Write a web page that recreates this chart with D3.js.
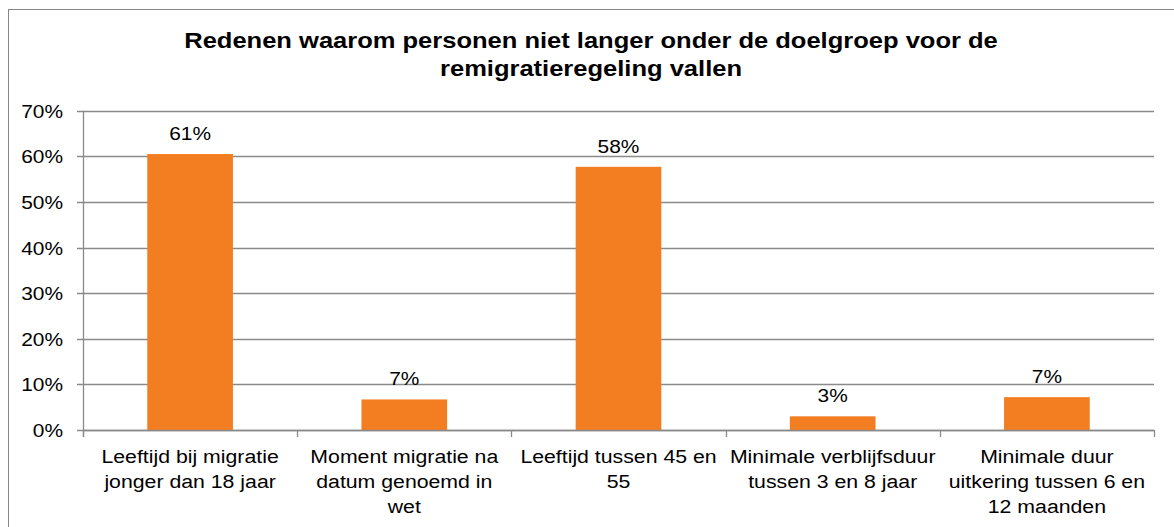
<!DOCTYPE html>
<html>
<head>
<meta charset="utf-8">
<script src="https://cdn.jsdelivr.net/npm/d3@7"></script>
<style>
  html, body { margin: 0; padding: 0; background: #fff; }
  svg { display: block; font-family: Arial, "Liberation Sans", sans-serif; }
</style>
</head>
<body>
<svg id="chart" width="1174" height="527"></svg>
<script>
// ---- data ----
const titleLines = ["Redenen waarom personen niet langer onder de doelgroep voor de", "remigratieregeling vallen"];
const categories = [
  "Leeftijd bij migratie\njonger dan 18 jaar",
  "Moment migratie na\ndatum genoemd in\nwet",
  "Leeftijd tussen 45 en\n55",
  "Minimale verblijfsduur\ntussen 3 en 8 jaar",
  "Minimale duur\nuitkering tussen 6 en\n12 maanden"
];
const values = [60.5, 6.7, 57.7, 3.0, 7.2];
const yTicks = [0, 10, 20, 30, 40, 50, 60, 70];

// ---- layout ----
const svg = d3.select("#chart");
const pLeft = 83, pRight = 1154, pTop = 110.7, pBottom = 430;
const sx = 1.12; // horizontal text stretch of the reference image
const gridColor = "#8a8a8a";

svg.append("rect").attr("x", 8.5).attr("y", 9.5).attr("width", 1180).attr("height", 540)
  .attr("fill", "none").attr("stroke", "#868686").attr("stroke-width", 1);

const x = d3.scaleBand().domain(categories).range([pLeft, pRight]).paddingInner(0.6).paddingOuter(0.3);
const y = d3.scaleLinear().domain([0, 70]).range([pBottom, pTop]);

// title
const tg = svg.append("g");
titleLines.forEach((t, i) => {
  tg.append("text").attr("transform", `translate(591,${48 + i * 28}) scale(1.16,1)`)
    .attr("text-anchor", "middle").attr("font-size", 22).attr("font-weight", "bold")
    .attr("fill", "#000").text(t);
});

// gridlines
svg.append("g").selectAll("line").data(yTicks).join("line")
  .attr("x1", pLeft - 6).attr("x2", pRight)
  .attr("y1", d => Math.round(y(d)) + 0.5).attr("y2", d => Math.round(y(d)) + 0.5)
  .attr("stroke", gridColor).attr("stroke-width", 1.3);

// y tick labels
svg.append("g").selectAll("text").data(yTicks).join("text")
  .attr("transform", d => `translate(63,${y(d) + 7}) scale(1.1,1)`)
  .attr("text-anchor", "end").attr("font-size", 19).attr("fill", "#000")
  .text(d => d + "%");

// bars
svg.append("g").selectAll("rect").data(values).join("rect")
  .attr("x", (d, i) => x(categories[i])).attr("width", x.bandwidth())
  .attr("y", d => y(d)).attr("height", d => y(0) - y(d))
  .attr("fill", "#F37E22");

// y axis line
svg.append("line").attr("x1", pLeft + 0.5).attr("x2", pLeft + 0.5)
  .attr("y1", pTop).attr("y2", pBottom + 7).attr("stroke", gridColor).attr("stroke-width", 1.3);

// category ticks
const step = x.step();
const bounds = d3.range(categories.length + 1).map(i => pLeft + i * step);
svg.append("g").selectAll("line").data(bounds).join("line")
  .attr("x1", d => Math.round(d) + 0.5).attr("x2", d => Math.round(d) + 0.5)
  .attr("y1", pBottom).attr("y2", pBottom + 7).attr("stroke", gridColor).attr("stroke-width", 1.3);
// x axis baseline
svg.append("line").attr("x1", pLeft).attr("x2", pRight).attr("y1", Math.round(pBottom) + 0.5).attr("y2", Math.round(pBottom) + 0.5)
  .attr("stroke", gridColor).attr("stroke-width", 1.3);

// data labels
svg.append("g").selectAll("text").data(values).join("text")
  .attr("transform", (d, i) => `translate(${x(categories[i]) + x.bandwidth() / 2},${y(d) - 14}) scale(1.1,1)`)
  .attr("text-anchor", "middle").attr("font-size", 19).attr("fill", "#000")
  .text(d => Math.round(d) + "%");

// category labels
const cg = svg.append("g");
categories.forEach((c, i) => {
  const cx = x(c) + x.bandwidth() / 2;
  c.split("\n").forEach((line, j) => {
    cg.append("text").attr("transform", `translate(${cx},${463 + j * 25}) scale(${sx},1)`)
      .attr("text-anchor", "middle").attr("font-size", 19).attr("fill", "#000").text(line);
  });
});
</script>
</body>
</html>
